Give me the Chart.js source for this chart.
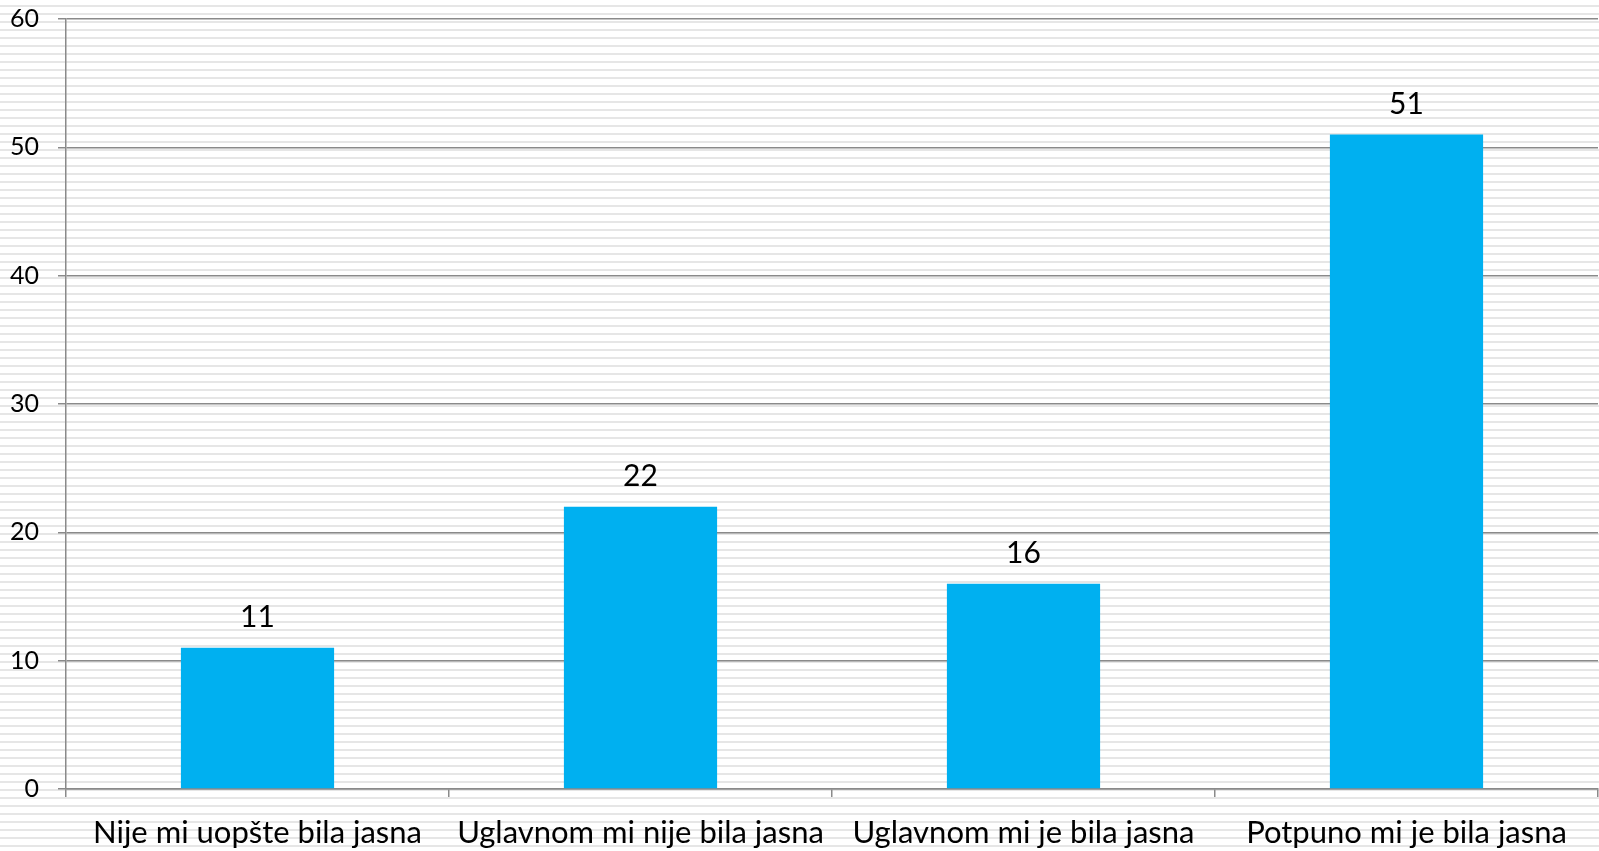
<!DOCTYPE html>
<html>
<head>
<meta charset="utf-8">
<script src="https://cdn.jsdelivr.net/npm/chart.js@4/dist/chart.umd.min.js"></script>
<style>
  html, body { margin: 0; padding: 0; }
  body {
    width: 1599px; height: 851px; overflow: hidden;
    background: repeating-linear-gradient(to bottom, #ffffff 0px, #ffffff 5px, #e6e6e6 5px, #e6e6e6 7px, #ffffff 7px, #ffffff 8px);
  }
  #wrap { width: 1599px; height: 851px; }
</style>
</head>
<body>
<div id="wrap"><canvas id="chart"></canvas></div>
<script>
const categories = ["Nije mi uopšte bila jasna", "Uglavnom mi nije bila jasna", "Uglavnom mi je bila jasna", "Potpuno mi je bila jasna"];
const values = [11, 22, 16, 51];
const yMin = 0, yMax = 60, yStep = 10;

const axisGray = "#8a8a8a";
const fontFamily = "Lato, 'Open Sans', sans-serif";

// simple value labels above the bars
const valueLabels = {
  id: "valueLabels",
  afterDatasetsDraw(chart) {
    const ctx = chart.ctx;
    const meta = chart.getDatasetMeta(0);
    ctx.save();
    ctx.font = "30px " + fontFamily;
    ctx.fillStyle = "#000";
    ctx.textAlign = "center";
    ctx.textBaseline = "alphabetic";
    meta.data.forEach((bar, i) => {
      ctx.fillText(String(values[i]), bar.x, bar.y - 21);
    });
    ctx.restore();
  }
};

new Chart(document.getElementById("chart"), {
  type: "bar",
  data: {
    labels: categories,
    datasets: [{
      data: values,
      backgroundColor: "#00b0f0",
      borderWidth: 0,
      categoryPercentage: 0.4,
      barPercentage: 1.0
    }]
  },
  options: {
    responsive: true,
    maintainAspectRatio: false,
    animation: false,
    layout: { padding: { top: 19, right: 1, left: 0, bottom: 0 } },
    plugins: {
      legend: { display: false },
      tooltip: { enabled: false }
    },
    scales: {
      x: {
        grid: {
          offset: true,
          drawOnChartArea: false,
          color: axisGray,
          lineWidth: 1.5,
          tickLength: 8
        },
        border: { color: axisGray, width: 1.5 },
        ticks: {
          color: "#000",
          font: { family: fontFamily, size: 31 },
          padding: 17,
          maxRotation: 0,
          autoSkip: false
        },
        afterFit(scale) { scale.height = 62; }
      },
      y: {
        min: yMin,
        max: yMax,
        grid: {
          color: axisGray,
          lineWidth: 1.5,
          tickLength: 8
        },
        border: { color: axisGray, width: 1.5 },
        ticks: {
          stepSize: yStep,
          color: "#000",
          font: { family: fontFamily, size: 25 },
          padding: 19
        },
        afterFit(scale) {
          scale.width = 66;
          scale.paddingTop = 0;
        }
      }
    }
  },
  plugins: [valueLabels]
});
</script>
</body>
</html>
